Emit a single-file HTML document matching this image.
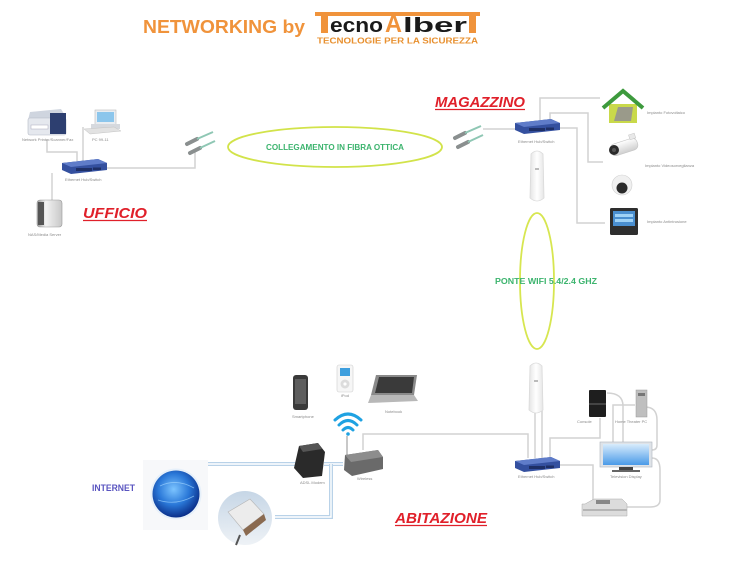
<!DOCTYPE html>
<html><head><meta charset="utf-8"><style>
html,body{margin:0;padding:0;background:#fff;}
svg{display:block;}
text{font-family:"Liberation Sans",sans-serif;}
.lbl{font-size:4px;fill:#8a8a8a;}
.ln{fill:none;stroke:#d2d2d2;stroke-width:1.5;}
.bl{fill:none;stroke:#b9d2e8;stroke-width:4;}
.bw{fill:none;stroke:#fff;stroke-width:1.4;}
</style></head><body>
<svg width="746" height="570" viewBox="0 0 746 570" xmlns="http://www.w3.org/2000/svg">
<defs>
<linearGradient id="ant" x1="0" x2="1"><stop offset="0" stop-color="#e4e4e4"/><stop offset=".5" stop-color="#fff"/><stop offset="1" stop-color="#e6e6e6"/></linearGradient>
<radialGradient id="globe" cx=".45" cy=".4" r=".6"><stop offset="0" stop-color="#7cc4ff"/><stop offset=".55" stop-color="#2a78d8"/><stop offset="1" stop-color="#0a2f8a"/></radialGradient>
<linearGradient id="sky" x1="0" y1="0" x2="0" y2="1"><stop offset="0" stop-color="#c6d6e6"/><stop offset="1" stop-color="#eef2f6"/></linearGradient>
<linearGradient id="tv" x1="0" y1="0" x2="0" y2="1"><stop offset="0" stop-color="#d8ecfc"/><stop offset="1" stop-color="#4a9ae8"/></linearGradient>
<linearGradient id="nas" x1="0" x2="1"><stop offset="0" stop-color="#9a9a9a"/><stop offset=".35" stop-color="#f2f2f2"/><stop offset="1" stop-color="#c8c8c8"/></linearGradient>
<linearGradient id="cam" x1="0" y1="0" x2="0" y2="1"><stop offset="0" stop-color="#fff"/><stop offset="1" stop-color="#cfcfcf"/></linearGradient>
<g id="sw">
<polygon points="0,4 36,0 45,4 45,11 9,15 0,11" fill="#34509f"/>
<polygon points="0,4 36,0 45,4 9,8" fill="#5f7cc9"/>
<rect x="14" y="9" width="16" height="3" fill="#1e2f66"/>
<rect x="31" y="8.5" width="8" height="2.5" fill="#1e2f66"/>
</g>
<g id="fib">
<line x1="2" y1="13" x2="12" y2="8" stroke="#8a8f8f" stroke-width="4" stroke-linecap="round"/>
<line x1="12" y1="8" x2="28" y2="1" stroke="#8fc7b4" stroke-width="2"/>
<line x1="5" y1="22" x2="15" y2="17" stroke="#8a8f8f" stroke-width="4" stroke-linecap="round"/>
<line x1="15" y1="17" x2="30" y2="10" stroke="#8fc7b4" stroke-width="2"/>
</g>
<g id="antenna">
<path d="M3,4 Q9,-2 15,4 L16,48 Q9,54 2,48 Z" fill="url(#ant)" stroke="#dadada" stroke-width=".8"/>
<rect x="7" y="18" width="4" height="2" fill="#bbb"/>
</g>
</defs>
<rect width="746" height="570" fill="#fff"/>

<!-- Title -->
<text x="143" y="33" font-size="18" font-weight="bold" fill="#f0933b" textLength="162" lengthAdjust="spacingAndGlyphs">NETWORKING by</text>
<rect x="315" y="12" width="165" height="4" fill="#f0933b"/>
<rect x="321" y="12" width="7" height="21" fill="#f0933b"/>
<rect x="469" y="12" width="7" height="21" fill="#f0933b"/>
<text x="330" y="32" font-size="20" font-weight="bold" fill="#1a1a1a" font-family="Liberation Mono" textLength="53" lengthAdjust="spacingAndGlyphs">ecno</text>
<text x="385" y="32" font-size="24" font-weight="bold" fill="#f0933b" textLength="17" lengthAdjust="spacingAndGlyphs">A</text>
<text x="403" y="32" font-size="20" font-weight="bold" fill="#1a1a1a" font-family="Liberation Mono" textLength="64" lengthAdjust="spacingAndGlyphs">lber</text>
<text x="317" y="43.5" font-size="8" font-weight="bold" fill="#e8902f" textLength="161" lengthAdjust="spacingAndGlyphs">TECNOLOGIE PER LA SICUREZZA</text>

<!-- Office lines -->
<path class="ln" d="M47,140 V152 H77 V161"/>
<path class="ln" d="M83,127 V161"/>
<path class="ln" d="M107,168 H195 V152"/>
<path class="ln" d="M52,173 V200"/>

<!-- Printer -->
<polygon points="30,112 61,109 66,117 28,120" fill="#cfd5df"/>
<rect x="28" y="118" width="38" height="17" rx="2" fill="#e5e8ee" stroke="#b4b8c4" stroke-width=".6"/>
<rect x="50" y="113" width="16" height="21" fill="#2d3f70"/>
<rect x="31" y="125" width="17" height="4" fill="#fff" stroke="#aab" stroke-width=".5"/>
<text class="lbl" x="22" y="141">Network Printer/Scanner/Fax</text>
<!-- PC -->
<rect x="95" y="110" width="21" height="15" fill="#e9edf1" stroke="#bcbcbc" stroke-width=".6"/>
<rect x="97" y="112" width="17" height="10" fill="#8cc6ec"/>
<rect x="91" y="124" width="29" height="5" fill="#d6d9de"/>
<polygon points="84,129 114,127 121,131 90,134" fill="#e2e2e2" stroke="#c4c4c4" stroke-width=".5"/>
<text class="lbl" x="92" y="141">PC 99-11</text>
<!-- Switch -->
<use href="#sw" x="62" y="159"/>
<text class="lbl" x="65" y="181">Ethernet Hub/Switch</text>
<!-- NAS -->
<rect x="37" y="200" width="25" height="27" rx="3" fill="url(#nas)" stroke="#999" stroke-width=".6"/>
<rect x="38" y="202" width="6" height="23" fill="#555"/>
<text class="lbl" x="28" y="236">NAS/Media Server</text>
<!-- UFFICIO -->
<text x="83" y="218" font-size="15" font-weight="bold" font-style="italic" fill="#e0202a" textLength="64" lengthAdjust="spacingAndGlyphs">UFFICIO</text>
<line x1="83" y1="220.5" x2="147" y2="220.5" stroke="#e0202a" stroke-width="1.2"/>

<!-- Fiber -->
<use href="#fib" x="185" y="131"/>
<ellipse cx="335" cy="147" rx="107" ry="20" fill="none" stroke="#d2e34a" stroke-width="1.8"/>
<text x="335" y="150" font-size="8" font-weight="bold" fill="#3cb46e" text-anchor="middle" textLength="138" lengthAdjust="spacingAndGlyphs">COLLEGAMENTO IN FIBRA OTTICA</text>
<use href="#fib" x="453" y="125"/>

<!-- Magazzino -->
<text x="435" y="107" font-size="15" font-weight="bold" font-style="italic" fill="#e0202a" textLength="90" lengthAdjust="spacingAndGlyphs">MAGAZZINO</text>
<line x1="435" y1="109.5" x2="525" y2="109.5" stroke="#e0202a" stroke-width="1.2"/>
<path class="ln" d="M483,129 H516"/>
<path class="ln" d="M540,120 V98 H600"/>
<path class="ln" d="M550,120 V113 H588 V162 H603"/>
<path class="ln" d="M560,128 H577 V223 H605"/>
<use href="#sw" x="515" y="119"/>
<text class="lbl" x="518" y="143">Ethernet Hub/Switch</text>
<use href="#antenna" x="528" y="150"/>
<!-- house -->
<rect x="609" y="104" width="28" height="19" fill="#c9d94a"/>
<polygon points="614,121 618,107 633,107 631,121" fill="#9a9a8a"/>
<polyline points="603,108 623,91 643,108" fill="none" stroke="#3d9a3d" stroke-width="4"/>
<text class="lbl" x="647" y="114">Impianto Fotovoltaico</text>
<!-- bullet cam -->
<g transform="rotate(-18 624 147)">
<rect x="610" y="141" width="28" height="12" rx="5" fill="url(#cam)" stroke="#c4c4c4" stroke-width=".6"/>
<rect x="632" y="137" width="6" height="5" fill="#e8e8e8" stroke="#c4c4c4" stroke-width=".5"/>
</g>
<circle cx="614" cy="150" r="5" fill="#2a2a2a"/>
<circle cx="614" cy="150" r="2" fill="#555"/>
<text class="lbl" x="645" y="167">Impianto Videosorveglianza</text>
<!-- dome -->
<circle cx="622" cy="185" r="10" fill="#f0f0f0" stroke="#cfcfcf" stroke-width=".6"/>
<circle cx="622" cy="188" r="5.5" fill="#2a2a2a"/>
<!-- touch panel -->
<rect x="610" y="208" width="28" height="27" rx="1.5" fill="#2e2e2e"/>
<rect x="613" y="211" width="22" height="15" fill="#4a8fd0"/>
<rect x="615" y="214" width="18" height="3" fill="#9fd2f6"/>
<rect x="615" y="219" width="18" height="3" fill="#9fd2f6"/>
<text class="lbl" x="647" y="223">Impianto Antintrusione</text>

<!-- wifi bridge -->
<ellipse cx="537" cy="281" rx="17" ry="68" fill="none" stroke="#d7e650" stroke-width="1.8"/>
<text x="546" y="284" font-size="8" font-weight="bold" fill="#3cb46e" text-anchor="middle" textLength="102" lengthAdjust="spacingAndGlyphs">PONTE WIFI 5.4/2.4 GHZ</text>

<!-- Abitazione lines -->
<path class="ln" d="M363,450 V434 H528 V458"/>
<path class="ln" d="M535,410 V458"/>
<path class="ln" d="M542,410 V458"/>
<path class="ln" d="M550,458 V438 H600 V418"/>
<path class="ln" d="M560,465 H593 V500"/>
<path class="ln" d="M607,393 Q623,393 623,406 V442"/>
<path class="ln" d="M613,442 V405 H635"/>
<path class="ln" d="M645,407 Q657,407 657,420 V445 Q657,450 652,450"/>
<path class="ln" d="M652,458 Q660,458 660,470 V500 Q660,507 650,507 H627"/>

<!-- blue lines -->
<path class="bl" d="M208,464 H297"/><path class="bw" d="M208,464 H297"/>
<path class="bl" d="M324,464 H343"/><path class="bw" d="M324,464 H343"/>
<path class="bl" d="M331,464 V517 H275"/><path class="bw" d="M331,464 V517 H275"/>

<use href="#antenna" x="527" y="362"/>
<use href="#sw" x="515" y="457"/>
<text class="lbl" x="518" y="478">Ethernet Hub/Switch</text>
<!-- console -->
<rect x="589" y="390" width="17" height="27" rx="1" fill="#1e1e1e"/>
<rect x="589" y="403" width="17" height="2" fill="#444"/>
<text class="lbl" x="577" y="423">Console</text>
<!-- HTPC -->
<rect x="636" y="390" width="11" height="27" fill="#bfbfbf" stroke="#999" stroke-width=".5"/>
<rect x="638" y="393" width="7" height="3" fill="#777"/>
<text class="lbl" x="615" y="423">Home Theater PC</text>
<!-- TV -->
<rect x="600" y="442" width="52" height="25" fill="#dfe3e8" stroke="#aeb4bc" stroke-width=".6"/>
<rect x="603" y="444" width="46" height="21" fill="url(#tv)"/>
<rect x="619" y="467" width="14" height="3" fill="#444"/>
<rect x="612" y="470" width="28" height="2" fill="#666"/>
<text class="lbl" x="610" y="478">Television Display</text>
<!-- DVD -->
<polygon points="585,504 594,499 622,499 627,504 627,516 582,516 582,504" fill="#dcdcdc" stroke="#aaa" stroke-width=".5"/>
<rect x="596" y="500" width="14" height="4" fill="#888"/>
<rect x="583" y="509" width="44" height="2" fill="#b5b5b5"/>

<!-- ABITAZIONE -->
<text x="395" y="523" font-size="15" font-weight="bold" font-style="italic" fill="#e0202a" textLength="92" lengthAdjust="spacingAndGlyphs">ABITAZIONE</text>
<line x1="395" y1="525.5" x2="487" y2="525.5" stroke="#e0202a" stroke-width="1.2"/>

<!-- smartphone -->
<rect x="293" y="375" width="15" height="35" rx="3" fill="#3a3a3a"/>
<rect x="295" y="379" width="11" height="25" fill="#5e5e5e"/>
<text class="lbl" x="292" y="418">Smartphone</text>
<!-- iPod -->
<rect x="337" y="365" width="16" height="27" rx="2" fill="#f6f6f6" stroke="#cfcfcf" stroke-width=".6"/>
<rect x="340" y="368" width="10" height="8" fill="#3e9fde"/>
<circle cx="345" cy="384" r="4.5" fill="#dcdcdc"/>
<circle cx="345" cy="384" r="1.6" fill="#fff"/>
<text class="lbl" x="341" y="397">iPod</text>
<!-- laptop -->
<polygon points="376,375 417,375 414,395 371,395" fill="#8a8a8a"/>
<polygon points="379,377 414,377 412,393 375,393" fill="#3a3a3a"/>
<polygon points="371,395 414,395 418,401 368,403" fill="#b8b8b8"/>
<text class="lbl" x="385" y="413">Notebook</text>
<!-- wifi icon -->
<g fill="none" stroke="#1fa2e2" stroke-width="3" stroke-linecap="round">
<path d="M335,420 Q348,408 361,420"/>
<path d="M339,425 Q348,416 357,425"/>
<path d="M343,430 Q348,425 353,430"/>
</g>
<circle cx="348" cy="434" r="1.8" fill="#1fa2e2"/>
<line x1="347" y1="436" x2="347" y2="457" stroke="#b5b5b5" stroke-width="1.5"/>
<!-- router -->
<polygon points="345,455 378,450 383,457 383,469 352,476 344,470" fill="#6a6a6a"/>
<polygon points="345,455 378,450 383,457 351,462" fill="#8d8d8d"/>
<text class="lbl" x="357" y="480">Wireless</text>
<!-- modem -->
<polygon points="299,446 318,443 325,452 322,476 303,478 294,468" fill="#2a2a2a"/>
<polygon points="299,446 318,443 322,449 303,452" fill="#555"/>
<text class="lbl" x="300" y="484">ADSL Modem</text>

<!-- Internet -->
<rect x="143" y="460" width="65" height="70" fill="#f7f8fa"/>
<circle cx="176" cy="494" r="25.5" fill="#e6f0fa"/>
<circle cx="176" cy="494" r="23.5" fill="url(#globe)"/>
<path d="M160,486 Q176,478 194,488 M158,500 Q176,506 194,496" fill="none" stroke="#9fd4ff" stroke-width=".8" opacity=".7"/>
<text x="92" y="491" font-size="9" font-weight="bold" fill="#5a55c0" textLength="43" lengthAdjust="spacingAndGlyphs">INTERNET</text>
<!-- satellite -->
<circle cx="245" cy="518" r="27" fill="url(#sky)"/>
<polygon points="228,512 250,499 264,514 243,530" fill="#ececec" stroke="#b5b5b5" stroke-width=".6"/>
<polygon points="243,530 264,514 266,520 246,536" fill="#8a6a50"/>
<line x1="240" y1="535" x2="236" y2="545" stroke="#555" stroke-width="2"/>
</svg>
</body></html>
